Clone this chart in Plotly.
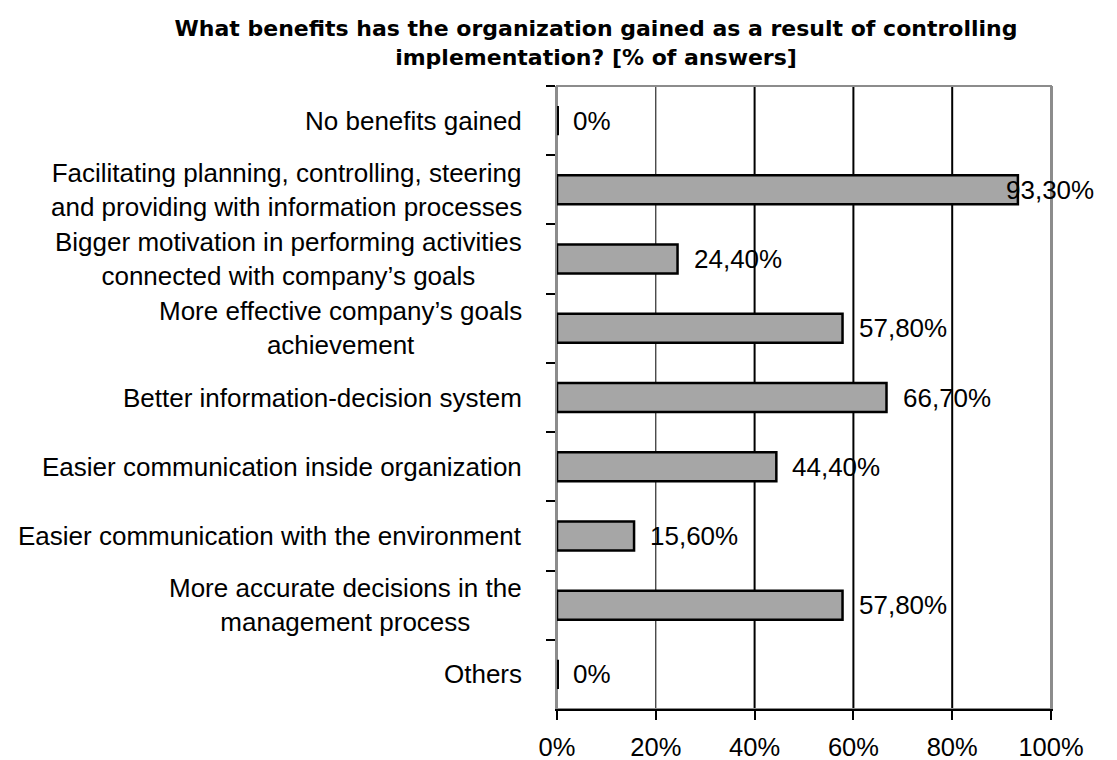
import plotly.graph_objects as go

categories = [
    "No benefits gained",
    "Facilitating planning, controlling, steering<br>and providing with information processes",
    "Bigger motivation in performing activities<br>connected with company’s goals",
    "More effective company’s goals<br>achievement",
    "Better information-decision system",
    "Easier communication inside organization",
    "Easier communication with the environment",
    "More accurate decisions in the<br>management process",
    "Others",
]
values = [0, 93.3, 24.4, 57.8, 66.7, 44.4, 15.6, 57.8, 0]
value_labels = ["0%", "93,30%", "24,40%", "57,80%", "66,70%", "44,40%", "15,60%", "57,80%", "0%"]
x_ticks = [0, 20, 40, 60, 80, 100]
x_tick_labels = ["0%", "20%", "40%", "60%", "80%", "100%"]
thin_grid = [20]
thick_grid = [40, 60, 80]

FONT = "Liberation Sans, Arial, sans-serif"
TITLE_FONT = "DejaVu Sans, Liberation Sans, sans-serif"
W, H = 1117, 760
ML, MR, MT, MB = 557, 66, 86, 51

fig = go.Figure()
fig.add_trace(go.Bar(
    y=categories, x=values, orientation="h",
    marker=dict(color="#A6A6A6",
                line=dict(color="black", width=[4 if v == 0 else 2.5 for v in values])),
    hoverinfo="skip",
))

for v in thin_grid:
    fig.add_vline(x=v, line_color="black", line_width=1, layer="below")
for v in thick_grid:
    fig.add_vline(x=v, line_color="black", line_width=2, layer="below")

# plot-area frame (gray)
fig.add_shape(type="rect", xref="paper", yref="paper", x0=0, x1=1, y0=0, y1=1,
              line=dict(color="#8C8C8C", width=2), layer="below")

# category labels (lines centered within a right-aligned block)
for c in categories:
    fig.add_annotation(x=0, xref="paper", y=c, yref="y", text=c, showarrow=False,
                       xanchor="right", xshift=-33, align="center",
                       font=dict(family=FONT, size=26, color="black"))

plot_w = W - ML - MR
for c, v, t in zip(categories, values, value_labels):
    end_px = v / 100 * plot_w + 14 + 92
    shift = 14 if end_px < plot_w + MR - 6 else -14
    fig.add_annotation(x=v, xref="x", y=c, yref="y", text=t, showarrow=False,
                       xanchor="left", xshift=shift,
                       font=dict(family=FONT, size=26, color="black"))

fig.update_layout(
    width=W, height=H,
    margin=dict(l=ML, r=MR, t=MT, b=MB, autoexpand=False),
    paper_bgcolor="white", plot_bgcolor="white",
    bargap=0.58, showlegend=False,
    font=dict(family=FONT, size=26, color="black"),
    title=dict(
        text="<b>What benefits has the organization gained as a result of controlling<br>implementation? [% of answers]</b>",
        x=596 / W, xanchor="center", xref="container",
        y=1 - 36 / H, yanchor="top", yref="container",
        font=dict(family=TITLE_FONT, size=22, color="black"),
    ),
    xaxis=dict(
        range=[0, 100], tickvals=x_ticks, ticktext=x_tick_labels,
        showgrid=False, zeroline=False, automargin=False,
        showline=True, linecolor="black", linewidth=2,
        ticks="outside", ticklen=9, tickwidth=2, tickcolor="black",
        ticklabelstandoff=5, layer="below traces",
        tickfont=dict(family=FONT, size=25.5, color="black"),
    ),
    yaxis=dict(
        type="category", categoryorder="array", categoryarray=categories,
        autorange="reversed", tickson="boundaries", automargin=False,
        showticklabels=False, showgrid=False, zeroline=False,
        showline=True, linecolor="#8C8C8C", linewidth=2, mirror=True,
        ticks="outside", ticklen=9, tickwidth=1.5, tickcolor="black",
        layer="below traces",
    ),
)

fig.write_html("out.html")
